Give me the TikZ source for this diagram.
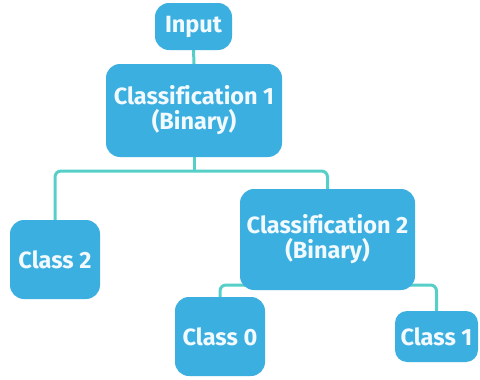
\documentclass[tikz,border=0pt]{standalone}
\usepackage{fontspec}
\setmainfont{Fira Sans}[Ligatures=NoCommon]
\usetikzlibrary{backgrounds}
\definecolor{boxblue}{HTML}{3BAFE0}
\definecolor{linkteal}{HTML}{55CFC8}
\definecolor{labelwhite}{HTML}{F2FAFF}
\tikzset{
  box/.style={fill=boxblue, rounded corners=14pt, align=center, inner sep=0pt,
    text=labelwhite, font=\fontsize{23.5}{25}\selectfont\bfseries},
  link/.style={draw=linkteal, line width=3pt, rounded corners=6pt}
}
\begin{document}
\begin{tikzpicture}[x=1pt, y=-1pt]
  \useasboundingbox (0,0) rectangle (480,380);
  % decision tree nodes
  \node[box, minimum width=77pt, minimum height=47pt] (input) at (193.5,26.5) {Input};
  \node[box, minimum width=176pt, minimum height=93pt] (cls1) at (194,110.5) {Classification 1\\(Binary)};
  \node[box, minimum width=90pt, minimum height=79pt] (class2) at (55,259.5) {Class 2};
  \node[box, minimum width=175pt, minimum height=101pt] (cls2) at (327.5,239.5) {Classification 2\\(Binary)};
  \node[box, minimum width=90pt, minimum height=79pt] (class0) at (220,336.5) {Class 0};
  \node[box, minimum width=83pt, minimum height=51pt, rounded corners=12pt] (class1) at (436.5,336.5) {Class 1};
  % connectors behind the boxes
  \begin{scope}[on background layer]
    \draw[link] (input.south) -- (cls1.north);
    \coordinate (split1) at (194,171);
    \draw[link] (cls1.south) -- (split1);
    \draw[link] (class2.north) |- (split1) -| (cls2.north);
    \coordinate (split2) at (330,285);
    \draw[link] (class0.north) |- (split2) -| (class1.north);
  \end{scope}
\end{tikzpicture}
\end{document}
